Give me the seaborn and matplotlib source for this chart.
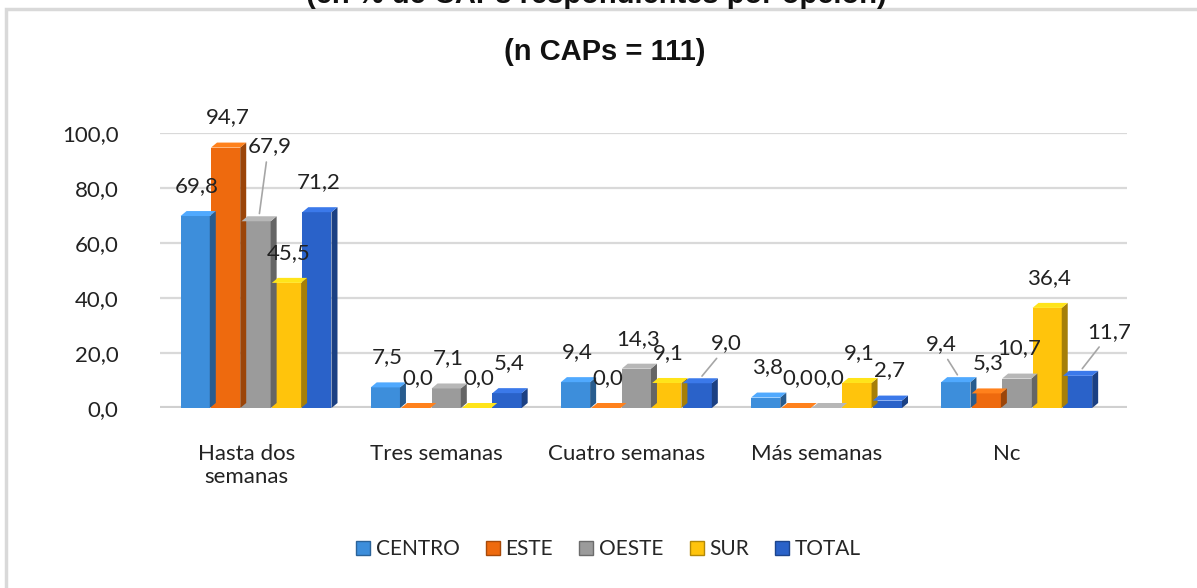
import matplotlib
matplotlib.use("Agg")
import matplotlib.pyplot as plt
import seaborn as sns
import pandas as pd
import numpy as np
from matplotlib.patches import Polygon, Rectangle
from matplotlib.lines import Line2D
import matplotlib.colors as mcolors

categories = ["Hasta dos\nsemanas", "Tres semanas", "Cuatro semanas", "Más semanas", "Nc"]
series = ["CENTRO", "ESTE", "OESTE", "SUR", "TOTAL"]
centro = [69.8, 7.5, 9.4, 3.8, 9.4]
este = [94.7, 0.0, 0.0, 0.0, 5.3]
oeste = [67.9, 7.1, 14.3, 0.0, 10.7]
sur = [45.5, 0.0, 9.1, 9.1, 36.4]
total = [71.2, 5.4, 9.0, 2.7, 11.7]
yticks = [0, 20, 40, 60, 80, 100]

title_top = "(en % de CAPs respondientes por opción)"
title_main = "(n CAPs = 111)"

colors = ["#3D8EDB", "#EE6A0E", "#9B9B9B", "#FFC40C", "#2A62C9"]

rows = []
for s, vals in zip(series, [centro, este, oeste, sur, total]):
    for c, v in zip(categories, vals):
        rows.append({"cat": c, "serie": s, "val": v})
df = pd.DataFrame(rows)

sns.set_theme(style="white")
plt.rcParams["font.family"] = ["Lato", "DejaVu Sans"]

W, H = 1197, 588
fig = plt.figure(figsize=(W / 100, H / 100), dpi=100)
fig.patch.set_facecolor("white")

# outer frame
fig.patches.append(Rectangle((6 / W, -0.2), 1.2, 1.2 - 9 / H, transform=fig.transFigure,
                             fill=False, edgecolor="#d9d9d9", lw=2.5, zorder=0))

left_px, right_px = 160, 1127
y0_px, y100_px = 408, 133
ax = fig.add_axes([left_px / W, 1 - y0_px / H, (right_px - left_px) / W, (y0_px - y100_px) / H])

sns.barplot(data=df, x="cat", y="val", hue="serie", palette=colors, ax=ax,
            width=0.8, gap=0.04, saturation=1, legend=False, zorder=3, edgecolor="none")

xmin, xmax = -0.505, 4.58
ax.set_xlim(xmin, xmax)
ax.set_ylim(0, 100)
ax.set_yticks(yticks)
ax.set_yticklabels([f"{v:.1f}".replace(".", ",") for v in yticks], fontsize=16, color="#222222")
ax.tick_params(axis="y", length=0, pad=30)
ax.tick_params(axis="x", length=0, pad=26)
ax.set_xticks(np.arange(len(categories)) - 0.05)
ax.set_xticklabels(categories, fontsize=16, color="#222222")
ax.set_xlabel("")
ax.set_ylabel("")
for sp in ax.spines.values():
    sp.set_visible(False)
ax.grid(False)
for v in yticks[1:]:
    ax.axhline(v, color="#d9d9d9", lw=1.6, zorder=0)
# floor
ax.axhline(0, color="#d0d0d0", lw=3, zorder=1)

px_x = (xmax - xmin) / (right_px - left_px)
px_y = 100 / (y0_px - y100_px)
dx = 6 * px_x
dy = 5 * px_y

bars = [p for p in ax.patches if isinstance(p, Rectangle)]
vals_all = [centro, este, oeste, sur, total]
idx = 0
label_nudge = {(2, 0): (12, 45), (4, 2): (27, 10), (4, 4): (30, 14), (0, 4): (-17, 8)}
for si in range(len(series)):
    for ci in range(len(categories)):
        p = bars[idx]
        idx += 1
        x, w, h = p.get_x(), p.get_width(), p.get_height()
        base = mcolors.to_rgb(colors[si])
        dark = tuple(c * 0.65 for c in base)
        light = tuple(min(1, c * 1.1 + 0.05) for c in base)
        side = Polygon([(x + w, 0), (x + w + dx, dy), (x + w + dx, h + dy), (x + w, h)],
                       closed=True, facecolor=dark, edgecolor="none", zorder=3, clip_on=False)
        top = Polygon([(x, h), (x + dx, h + dy), (x + w + dx, h + dy), (x + w, h)],
                      closed=True, facecolor=light, edgecolor="none", zorder=3, clip_on=False)
        ax.add_patch(side)
        ax.add_patch(top)
        v = vals_all[si][ci]
        ndx, ndy = label_nudge.get((si, ci), (0, 0))
        ax.annotate(f"{v:.1f}".replace(".", ","), xy=(x + w / 2 + dx / 2, h),
                    xytext=(-1 + ndx, 30 + ndy), textcoords="offset pixels",
                    ha="center", va="center", fontsize=16, color="#222222",
                    zorder=6, annotation_clip=False)
        if (si, ci) in label_nudge:
            ax.annotate("", xy=(x + w / 2 + dx / 2, h + dy),
                        xytext=(x + w / 2 + dx / 2 + (ndx - 1) * px_x * 0.7, h + (30 + ndy - 13) * px_y),
                        arrowprops=dict(arrowstyle="-", color="#a6a6a6", lw=1.2),
                        zorder=5, annotation_clip=False)

# titles
tfam = ["Liberation Sans Narrow", "Liberation Sans", "DejaVu Sans"]
fig.text(0.505, 1 - 52 / H, title_main, ha="center", va="center", fontsize=21, fontweight="bold",
         family=tfam, color="#111111")
fig.text(0.498, 1 - 3 / H, title_top, ha="center", va="baseline", fontsize=21, fontweight="bold",
         family=tfam, color="#111111")

# legend
handles = [Line2D([], [], marker="s", linestyle="none", markersize=10, markerfacecolor=c,
                  markeredgecolor=tuple(k * 0.7 for k in mcolors.to_rgb(c))) for c in colors]
fig.legend(handles, series, loc="center", bbox_to_anchor=(0.507, 1 - 549 / H), ncol=5,
           frameon=False, fontsize=15, handletextpad=0.1, columnspacing=1.1, handlelength=1.0)

fig.savefig("out.png", dpi=100, facecolor="white")
